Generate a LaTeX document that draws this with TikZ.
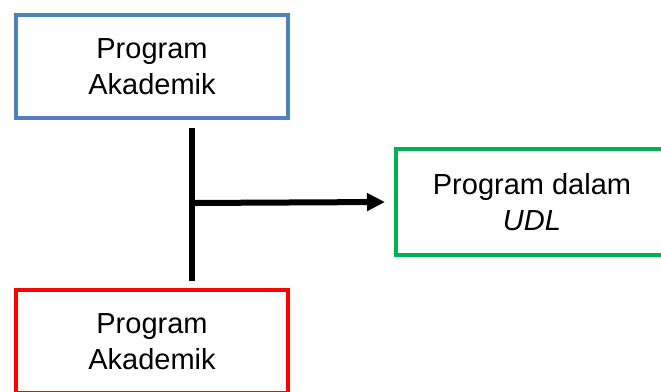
\documentclass[tikz,border=0pt]{standalone}
\usepackage{fontspec}
\setmainfont{Liberation Sans}
\usetikzlibrary{arrows.meta}
\definecolor{boxblue}{HTML}{4F81BD}
\definecolor{boxred}{HTML}{FF0000}
\definecolor{boxgreen}{HTML}{00B050}
\tikzstyle{prog} = [rectangle, minimum width=272pt, minimum height=103pt, text centered, align=center, line width=4pt, font=\fontsize{29}{36}\selectfont]
\tikzstyle{link} = [line width=6pt]
\tikzstyle{arrow} = [line width=6pt, -{Triangle[length=18pt,width=17pt]}]
\begin{document}
\begin{tikzpicture}[x=1pt, y=1pt]
	\useasboundingbox (0,0) rectangle (661,-391);
	\node(akad1) [prog, draw=boxblue] at (152,-66.5) {Program\\Akademik};
	\node(akad2) [prog, draw=boxred, below of=akad1, node distance=275pt] {Program\\Akademik};
	\node(udl) [prog, draw=boxgreen, minimum height=106pt] at (532,-202) {Program dalam\\\textit{UDL}};
	\coordinate(split) at (192,-203);
	
	\draw[link] ([xshift=40pt,yshift=-8pt]akad1.south) -- ([xshift=40pt,yshift=7pt]akad2.north);
	\draw[arrow] (split) -- ([xshift=-9pt]udl.west);
\end{tikzpicture}
\end{document}
